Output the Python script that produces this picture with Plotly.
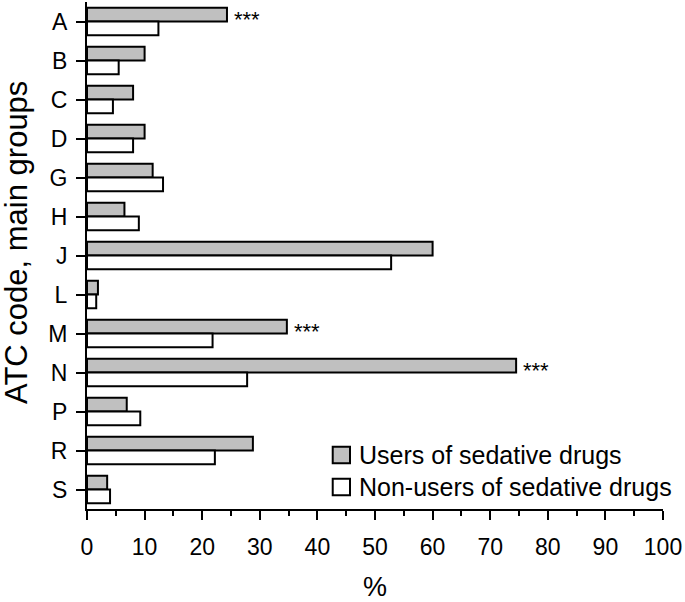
import plotly.graph_objects as go

categories = ["A", "B", "C", "D", "G", "H", "J", "L", "M", "N", "P", "R", "S"]
users = [24.3, 10.0, 8.0, 10.0, 11.4, 6.5, 60.0, 1.9, 34.7, 74.5, 6.9, 28.8, 3.5]
non_users = [12.4, 5.5, 4.5, 8.0, 13.2, 9.0, 52.8, 1.6, 21.8, 27.8, 9.25, 22.2, 4.0]
significant = ["A", "M", "N"]
x_ticks = list(range(0, 101, 10))

font = "Liberation Sans, Arial, sans-serif"

fig = go.Figure()
fig.add_trace(go.Bar(y=categories, x=users, orientation="h",
                     name="Users of sedative drugs",
                     marker=dict(color="#c0c0c0", line=dict(color="black", width=2)),
                     showlegend=False))
fig.add_trace(go.Bar(y=categories, x=non_users, orientation="h",
                     name="Non-users of sedative drugs",
                     marker=dict(color="white", line=dict(color="black", width=2)),
                     showlegend=False))

annotations = []
for c, v in zip(categories, users):
    if c in significant:
        annotations.append(dict(x=v, y=c, xref="x", yref="y", text="***",
                                showarrow=False, xanchor="left", xshift=5, yshift=2,
                                font=dict(size=22, color="black", family=font)))

# manual legend
names = ["Users of sedative drugs", "Non-users of sedative drugs"]
fills = ["#c0c0c0", "white"]
shapes = []
rows_y = [0.1065, 0.0434]
for nm, fc, yc in zip(names, fills, rows_y):
    shapes.append(dict(type="rect", xref="paper", yref="paper",
                       x0=0.4266, x1=0.4566, y0=yc - 0.0161, y1=yc + 0.0161,
                       fillcolor=fc, line=dict(color="black", width=2)))
    annotations.append(dict(x=0.4688, y=yc, xref="paper", yref="paper", text=nm,
                            showarrow=False, xanchor="left", yanchor="middle",
                            font=dict(size=25, color="black", family=font)))

# axis titles
annotations.append(dict(x=-0.1215, y=0.5247, xref="paper", yref="paper",
                        text="ATC code, main groups", textangle=-90, showarrow=False,
                        xanchor="center", yanchor="middle",
                        font=dict(size=31, color="black", family=font)))
annotations.append(dict(x=0.5, y=-0.1538, xref="paper", yref="paper",
                        text="%", showarrow=False, xanchor="center", yanchor="middle",
                        font=dict(size=27, color="black", family=font)))

fig.update_layout(
    width=685, height=602,
    margin=dict(l=87, r=22, t=2, b=93),
    barmode="group", bargap=0.3, bargroupgap=0,
    plot_bgcolor="white", paper_bgcolor="white",
    font=dict(family=font, color="black"),
    shapes=shapes, annotations=annotations,
    xaxis=dict(range=[0, 100], tickvals=x_ticks, ticks="outside", ticklen=9,
               tickwidth=2, tickcolor="black", showline=True, linecolor="black",
               linewidth=2, showgrid=False, zeroline=False, automargin=False,
               tickfont=dict(size=23), ticklabelstandoff=7,
               minor=dict(dtick=5, ticks="outside", ticklen=5, tickwidth=2,
                          tickcolor="black", showgrid=False)),
    yaxis=dict(range=[12.5, -0.5], type="category", ticks="outside", ticklen=9,
               tickwidth=2, tickcolor="black", showline=True, linecolor="black",
               linewidth=2, showgrid=False, zeroline=False, automargin=False,
               tickfont=dict(size=23), ticklabelstandoff=4),
)

fig.write_html("out.html", config={"displayModeBar": False},
               post_script="document.body.style.margin='0';document.body.style.overflow='hidden';")
